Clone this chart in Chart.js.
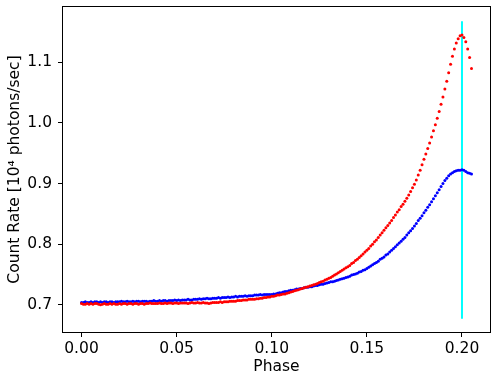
<!DOCTYPE html>
<html>
<head>
<meta charset="utf-8">
<script src="https://cdn.jsdelivr.net/npm/chart.js@4"></script>
<style>
  html, body { margin: 0; padding: 0; background: #fff; }
</style>
</head>
<body>
<canvas id="lightCurve" width="501" height="376"></canvas>
<script>
// phase bins
const phase = [
  0.000, 0.001, 0.002, 0.003, 0.004, 0.005, 0.006, 0.007, 0.008, 0.009,
  0.010, 0.011, 0.012, 0.013, 0.014, 0.015, 0.016, 0.017, 0.018, 0.019,
  0.020, 0.021, 0.022, 0.023, 0.024, 0.025, 0.026, 0.027, 0.028, 0.029,
  0.030, 0.031, 0.032, 0.033, 0.034, 0.035, 0.036, 0.037, 0.038, 0.039,
  0.040, 0.041, 0.042, 0.043, 0.044, 0.045, 0.046, 0.047, 0.048, 0.049,
  0.050, 0.051, 0.052, 0.053, 0.054, 0.055, 0.056, 0.057, 0.058, 0.059,
  0.060, 0.061, 0.062, 0.063, 0.064, 0.065, 0.066, 0.067, 0.068, 0.069,
  0.070, 0.071, 0.072, 0.073, 0.074, 0.075, 0.076, 0.077, 0.078, 0.079,
  0.080, 0.081, 0.082, 0.083, 0.084, 0.085, 0.086, 0.087, 0.088, 0.089,
  0.090, 0.091, 0.092, 0.093, 0.094, 0.095, 0.096, 0.097, 0.098, 0.099,
  0.100, 0.101, 0.102, 0.103, 0.104, 0.105, 0.106, 0.107, 0.108, 0.109,
  0.110, 0.111, 0.112, 0.113, 0.114, 0.115, 0.116, 0.117, 0.118, 0.119,
  0.120, 0.121, 0.122, 0.123, 0.124, 0.125, 0.126, 0.127, 0.128, 0.129,
  0.130, 0.131, 0.132, 0.133, 0.134, 0.135, 0.136, 0.137, 0.138, 0.139,
  0.140, 0.141, 0.142, 0.143, 0.144, 0.145, 0.146, 0.147, 0.148, 0.149,
  0.150, 0.151, 0.152, 0.153, 0.154, 0.155, 0.156, 0.157, 0.158, 0.159,
  0.160, 0.161, 0.162, 0.163, 0.164, 0.165, 0.166, 0.167, 0.168, 0.169,
  0.170, 0.171, 0.172, 0.173, 0.174, 0.175, 0.176, 0.177, 0.178, 0.179,
  0.180, 0.181, 0.182, 0.183, 0.184, 0.185, 0.186, 0.187, 0.188, 0.189,
  0.190, 0.191, 0.192, 0.193, 0.194, 0.195, 0.196, 0.197, 0.198, 0.199,
  0.200, 0.201, 0.202, 0.203, 0.204, 0.205
];

// red curve (count rate, 10^4 photons/sec)
const redRate = [
  0.702, 0.701, 0.701, 0.702, 0.701, 0.702, 0.701, 0.702, 0.702, 0.701,
  0.700, 0.701, 0.702, 0.701, 0.701, 0.702, 0.701, 0.702, 0.701, 0.701,
  0.702, 0.701, 0.702, 0.702, 0.701, 0.702, 0.702, 0.701, 0.702, 0.702,
  0.701, 0.702, 0.702, 0.701, 0.702, 0.702, 0.703, 0.702, 0.702, 0.702,
  0.702, 0.703, 0.702, 0.702, 0.703, 0.702, 0.703, 0.703, 0.702, 0.703,
  0.703, 0.702, 0.703, 0.703, 0.703, 0.703, 0.702, 0.703, 0.704, 0.703,
  0.703, 0.704, 0.703, 0.703, 0.704, 0.703, 0.703, 0.702, 0.703, 0.704,
  0.704, 0.704, 0.704, 0.705, 0.704, 0.705, 0.705, 0.705, 0.706, 0.706,
  0.706, 0.706, 0.707, 0.707, 0.707, 0.708, 0.708, 0.708, 0.709, 0.709,
  0.709, 0.709, 0.710, 0.710, 0.711, 0.711, 0.712, 0.712, 0.713, 0.713,
  0.714, 0.714, 0.715, 0.716, 0.716, 0.717, 0.718, 0.718, 0.719, 0.720,
  0.721, 0.722, 0.723, 0.724, 0.725, 0.726, 0.727, 0.728, 0.729, 0.730,
  0.731, 0.732, 0.733, 0.734, 0.735, 0.737, 0.738, 0.739, 0.741, 0.742,
  0.744, 0.745, 0.747, 0.749, 0.751, 0.753, 0.755, 0.757, 0.759, 0.761,
  0.763, 0.765, 0.768, 0.770, 0.773, 0.775, 0.778, 0.781, 0.784, 0.787,
  0.790, 0.793, 0.797, 0.800, 0.804, 0.807, 0.811, 0.815, 0.819, 0.823,
  0.827, 0.831, 0.835, 0.839, 0.844, 0.848, 0.853, 0.857, 0.862, 0.866,
  0.871, 0.876, 0.881, 0.887, 0.893, 0.899, 0.906, 0.914, 0.922, 0.931,
  0.940, 0.949, 0.958, 0.967, 0.977, 0.987, 0.997, 1.008, 1.019, 1.031,
  1.043, 1.056, 1.069, 1.083, 1.097, 1.110, 1.122, 1.132, 1.139, 1.144,
  1.145, 1.141, 1.134, 1.122, 1.108, 1.090
];

// blue curve
const blueRate = [
  0.704, 0.704, 0.705, 0.704, 0.704, 0.705, 0.704, 0.705, 0.705, 0.704,
  0.705, 0.704, 0.705, 0.705, 0.704, 0.705, 0.705, 0.704, 0.705, 0.705,
  0.705, 0.706, 0.705, 0.705, 0.706, 0.705, 0.705, 0.706, 0.705, 0.706,
  0.706, 0.705, 0.706, 0.706, 0.706, 0.705, 0.706, 0.706, 0.707, 0.706,
  0.706, 0.707, 0.706, 0.707, 0.707, 0.706, 0.707, 0.707, 0.707, 0.708,
  0.707, 0.708, 0.707, 0.708, 0.708, 0.708, 0.709, 0.708, 0.708, 0.709,
  0.709, 0.709, 0.710, 0.709, 0.710, 0.710, 0.711, 0.710, 0.710, 0.711,
  0.711, 0.711, 0.712, 0.711, 0.712, 0.712, 0.712, 0.713, 0.712, 0.713,
  0.713, 0.714, 0.713, 0.714, 0.714, 0.714, 0.715, 0.714, 0.715, 0.715,
  0.715, 0.716, 0.716, 0.716, 0.717, 0.716, 0.717, 0.717, 0.717, 0.717,
  0.717, 0.718, 0.718, 0.719, 0.720, 0.720, 0.721, 0.722, 0.722, 0.723,
  0.724, 0.724, 0.725, 0.726, 0.726, 0.727, 0.727, 0.728, 0.729, 0.729,
  0.730, 0.730, 0.731, 0.732, 0.732, 0.733, 0.734, 0.734, 0.735, 0.736,
  0.737, 0.738, 0.738, 0.739, 0.740, 0.741, 0.742, 0.743, 0.744, 0.745,
  0.746, 0.747, 0.749, 0.750, 0.751, 0.752, 0.754, 0.755, 0.757, 0.758,
  0.760, 0.762, 0.764, 0.766, 0.768, 0.770, 0.772, 0.775, 0.777, 0.779,
  0.782, 0.784, 0.787, 0.790, 0.793, 0.796, 0.799, 0.802, 0.805, 0.808,
  0.811, 0.815, 0.819, 0.822, 0.826, 0.830, 0.834, 0.839, 0.843, 0.847,
  0.852, 0.856, 0.861, 0.865, 0.870, 0.875, 0.880, 0.885, 0.890, 0.895,
  0.900, 0.905, 0.909, 0.913, 0.916, 0.918, 0.920, 0.921, 0.922, 0.922,
  0.923, 0.922, 0.920, 0.918, 0.917, 0.916
];

// cyan marker line at the peak
const peakPhase = [0.2, 0.2];
const peakRate = [0.677, 1.168];

const xTicks = [0.00, 0.05, 0.10, 0.15, 0.20];
const yTicks = [0.7, 0.8, 0.9, 1.0, 1.1];

const toPoints = (xs, ys) => xs.map((x, i) => ({x: x, y: ys[i]}));

const framePlugin = {
  id: 'frame',
  afterDatasetsDraw(chart) {
    const {ctx, chartArea: a} = chart;
    ctx.save();
    ctx.strokeStyle = '#000';
    ctx.lineWidth = 1;
    ctx.strokeRect(Math.round(a.left) + 0.5, Math.round(a.top) + 0.5,
      Math.round(a.right - a.left) - 1, Math.round(a.bottom - a.top) - 1);
    ctx.restore();
  }
};

const font = {family: 'DejaVu Sans', size: 15.5};

const ctx = document.getElementById('lightCurve').getContext('2d');
const lightCurveChart = new Chart(ctx, {
  type: 'scatter',
  data: {
    datasets: [{
      data: toPoints(phase, redRate),
      backgroundColor: '#ff0000',
      borderWidth: 0,
      pointRadius: 1.5
    }, {
      data: toPoints(phase, blueRate),
      backgroundColor: '#0000ff',
      borderWidth: 0,
      pointRadius: 1.5
    }, {
      data: toPoints(peakPhase, peakRate),
      showLine: true,
      borderColor: '#00ffff',
      borderWidth: 2,
      pointRadius: 0
    }]
  },
  options: {
    responsive: false,
    animation: false,
    layout: {
      padding: {left: 0, right: 10, top: 6, bottom: 0}
    },
    scales: {
      x: {
        min: -0.01025,
        max: 0.21525,
        afterBuildTicks: (s) => { s.ticks = xTicks.map(v => ({value: v})); },
        afterFit: (s) => { s.height = 43; s.paddingLeft = 0; s.paddingRight = 0; },
        border: {display: false},
        grid: {
          drawOnChartArea: false,
          drawTicks: true,
          tickLength: 4,
          tickColor: '#000'
        },
        ticks: {
          color: '#000',
          font: font,
          padding: 3,
          maxRotation: 0,
          callback: (v) => v.toFixed(2)
        },
        title: {
          display: true,
          text: 'Phase',
          color: '#000',
          font: font,
          padding: {top: 0, bottom: 0}
        }
      },
      y: {
        min: 0.6535,
        max: 1.193,
        afterBuildTicks: (s) => { s.ticks = yTicks.map(v => ({value: v})); },
        afterFit: (s) => { s.width = 62; s.paddingTop = 0; s.paddingBottom = 0; },
        border: {display: false},
        grid: {
          drawOnChartArea: false,
          drawTicks: true,
          tickLength: 4,
          tickColor: '#000'
        },
        ticks: {
          color: '#000',
          font: font,
          padding: 6,
          callback: (v) => v.toFixed(1)
        },
        title: {
          display: true,
          text: 'Count Rate [10\u2074 photons/sec]',
          color: '#000',
          font: font,
          padding: {top: 6, bottom: 0}
        }
      }
    },
    plugins: {
      legend: {display: false},
      tooltip: {enabled: false}
    }
  },
  plugins: [framePlugin]
});
</script>
</body>
</html>
